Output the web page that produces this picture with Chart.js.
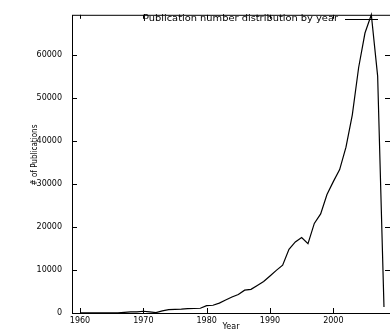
<!DOCTYPE html>
<html lang="en">
<head>
  <meta charset="UTF-8">
  <title>Publication number distribution by year</title>
  <script src="https://cdn.jsdelivr.net/npm/chart.js"></script>
  <style>
    html, body {
      margin: 0;
      padding: 0;
      background: #fff;
    }
    .chart-box {
      width: 390px;
      height: 329px;
    }
  </style>
</head>
<body>
  <div class="chart-box"><canvas id="pubChart" width="390" height="329"></canvas></div>

  <script>
    const years = [
      1960, 1961, 1962, 1963, 1964, 1965, 1966, 1967, 1968, 1969,
      1970, 1971, 1972, 1973, 1974, 1975, 1976, 1977, 1978, 1979,
      1980, 1981, 1982, 1983, 1984, 1985, 1986, 1987, 1988, 1989,
      1990, 1991, 1992, 1993, 1994, 1995, 1996, 1997, 1998, 1999,
      2000, 2001, 2002, 2003, 2004, 2005, 2006, 2007, 2008
    ];
    const publications = [
      50, 50, 30, 20, 20, 30, 50, 150, 250, 250,
      400, 250, 100, 500, 800, 850, 900, 1000, 1050, 1100,
      1700, 1800, 2300, 3000, 3700, 4300, 5300, 5500, 6400, 7300,
      8600, 9900, 11100, 14800, 16500, 17500, 16100, 20800, 23000, 27500,
      30500, 33300, 38500, 46000, 57000, 65000, 69230, 55000, 1400
    ];
    const xTicks = [1960, 1970, 1980, 1990, 2000];
    const yTicks = [0, 10000, 20000, 30000, 40000, 50000, 60000];
    const seriesLabel = 'Publication number distribution by year';
    const xTitle = 'Year';
    const yTitle = '# of Publications';

    const points = years.map((yr, i) => ({ x: yr, y: publications[i] }));

    const tickFont = { family: 'DejaVu Sans', size: 8 };
    const narrowFont = "8px 'Liberation Sans Narrow', 'DejaVu Sans Condensed', sans-serif";

    // gnuplot look: full frame, ticks pointing inwards on all sides, legend inside top right
    const framePlugin = {
      id: 'frame',
      afterDatasetsDraw(chart) {
        const { ctx, chartArea: a, scales: { x, y } } = chart;
        ctx.save();
        ctx.strokeStyle = '#000';
        ctx.lineWidth = 1;
        ctx.strokeRect(a.left + 0.5, a.top + 0.5, a.right - a.left, a.bottom - a.top);

        ctx.beginPath();
        xTicks.forEach(v => {
          const px = Math.round(x.getPixelForValue(v)) + 0.5;
          ctx.moveTo(px, a.bottom); ctx.lineTo(px, a.bottom - 5);
          ctx.moveTo(px, a.top); ctx.lineTo(px, a.top + 4);
        });
        yTicks.forEach(v => {
          const py = Math.round(y.getPixelForValue(v)) + 0.5;
          ctx.moveTo(a.left, py); ctx.lineTo(a.left + 5, py);
          ctx.moveTo(a.right, py); ctx.lineTo(a.right - 5, py);
        });
        ctx.stroke();

        // legend
        ctx.font = '8px DejaVu Sans';
        ctx.fillStyle = '#000';
        ctx.textBaseline = 'middle';
        const w = ctx.measureText(seriesLabel).width;
        const sx = 195 / w;
        ctx.save();
        ctx.translate(338, 19);
        ctx.scale(sx, 1);
        ctx.textAlign = 'right';
        ctx.fillText(seriesLabel, 0, 0);
        ctx.restore();
        ctx.beginPath();
        ctx.moveTo(345, 19.5);
        ctx.lineTo(378, 19.5);
        ctx.stroke();

        // axis titles
        ctx.textAlign = 'center';
        ctx.textBaseline = 'top';
        ctx.font = '8px DejaVu Sans';
        ctx.fillText(xTitle, (a.left + a.right) / 2, 323);

        ctx.font = narrowFont;
        ctx.textBaseline = 'middle';
        ctx.translate(35, 155);
        ctx.rotate(-Math.PI / 2);
        ctx.fillText(yTitle, 0, 0);
        ctx.restore();
      }
    };

    const pubChart = new Chart(document.getElementById('pubChart').getContext('2d'), {
      type: 'line',
      data: {
        datasets: [{
          label: seriesLabel,
          data: points,
          borderColor: '#000',
          borderWidth: 1.2,
          tension: 0,
          pointRadius: 0,
          fill: false,
          clip: 3
        }]
      },
      options: {
        responsive: false,
        animation: false,
        devicePixelRatio: 1,
        layout: { padding: { top: 13, right: 0, left: 0, bottom: 0 } },
        plugins: {
          legend: { display: false },
          tooltip: { enabled: false }
        },
        scales: {
          x: {
            type: 'linear',
            min: 1958.74,
            max: 2008.95,
            afterBuildTicks: s => { s.ticks = xTicks.map(v => ({ value: v })); },
            afterFit: s => { s.height = 16; },
            grid: { display: false, drawTicks: false },
            border: { display: false },
            ticks: {
              font: tickFont,
              color: '#000',
              padding: 3,
              maxRotation: 0,
              autoSkip: false,
              callback: v => String(v)
            }
          },
          y: {
            min: 0,
            max: 69230,
            afterBuildTicks: s => { s.ticks = yTicks.map(v => ({ value: v })); },
            afterFit: s => { s.width = 72; },
            grid: { display: false, drawTicks: false },
            border: { display: false },
            ticks: {
              font: tickFont,
              color: '#000',
              padding: 10,
              autoSkip: false,
              callback: v => String(v)
            }
          }
        }
      },
      plugins: [framePlugin]
    });
  </script>
</body>
</html>
